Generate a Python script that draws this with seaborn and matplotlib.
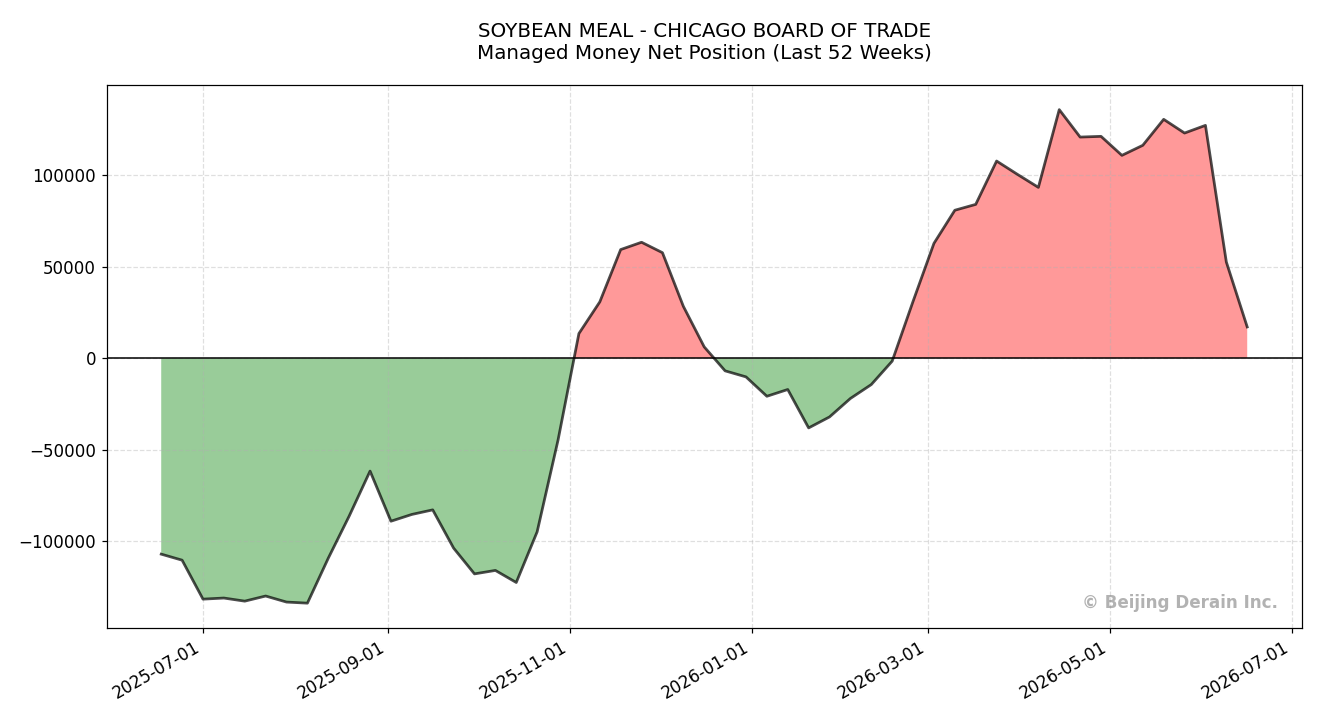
import numpy as np
import pandas as pd
import seaborn as sns
import matplotlib.pyplot as plt
import matplotlib.dates as mdates

# weekly report dates (Tuesdays), 53 weeks
dates = pd.date_range("2025-06-17", "2026-06-16", freq="7D")

# managed money net position
net_position = [
    -107100, -110400, -131700, -131100, -132800, -130000, -133300, -133900,
    -109300, -86300, -61700, -89100, -85400, -82900, -103800, -117900,
    -116000, -122600, -94900, -44800, 13500, 30800, 59400, 63400,
    57700, 28400, 6200, -6900, -10200, -20800, -17100, -38100,
    -32100, -22000, -14400, -1600, 31100, 62800, 80900, 84100,
    107800, 100500, 93400, 135900, 120900, 121300, 110900, 116400,
    130600, 123100, 127300, 52600, 17100,
]

title_lines = ["SOYBEAN MEAL - CHICAGO BOARD OF TRADE",
               "Managed Money Net Position (Last 52 Weeks)"]
watermark = "\u00a9 Beijing Derain Inc."

df = pd.DataFrame({"date": dates, "net": net_position})

plt.rcParams["font.family"] = ["DejaVu Sans"]

fig, ax = plt.subplots(figsize=(12, 6.5455), dpi=110)
fig.subplots_adjust(left=0.081, right=0.986, top=0.882, bottom=0.128)

ax.fill_between(df.date, df.net, 0, where=df.net >= 0, interpolate=True,
                color="red", alpha=0.4, linewidth=0)
ax.fill_between(df.date, df.net, 0, where=df.net <= 0, interpolate=True,
                color="green", alpha=0.4, linewidth=0)
sns.lineplot(data=df, x="date", y="net", ax=ax, color="black",
             alpha=0.7, linewidth=1.8)
ax.axhline(0, color="black", linewidth=1)

ax.set_title("\n".join(title_lines), fontsize=13, pad=17)
ax.set_xlabel("")
ax.set_ylabel("")
ax.grid(True, linestyle="--", alpha=0.4)

ax.xaxis.set_major_locator(mdates.MonthLocator(bymonth=[1, 3, 5, 7, 9, 11]))
ax.xaxis.set_major_formatter(mdates.DateFormatter("%Y-%m-%d"))
ax.tick_params(labelsize=11)
plt.setp(ax.get_xticklabels(), rotation=30, ha="right")

ax.text(0.98, 0.03, watermark, transform=ax.transAxes, ha="right", va="bottom",
        fontsize=11, fontweight="bold", color="gray", alpha=0.6)

fig.savefig("out.png", dpi=110)
